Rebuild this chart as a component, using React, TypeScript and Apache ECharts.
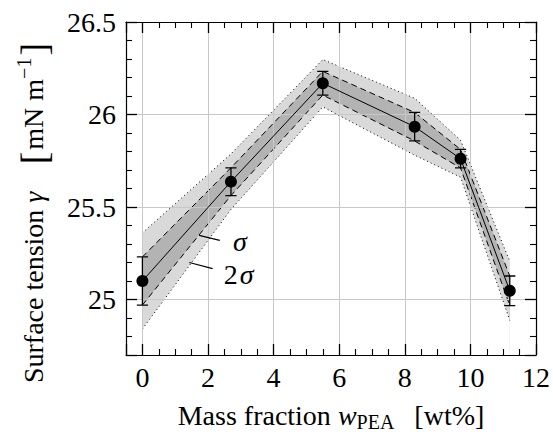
import React, { useEffect, useRef } from "react";
import * as echarts from "echarts";

// Data
const massFraction = [0, 2.7, 5.5, 8.3, 9.7, 11.2];
const surfaceTension = [25.1, 25.637, 26.169, 25.934, 25.761, 25.047];
const sigma = [0.13, 0.075, 0.064, 0.077, 0.05, 0.08];

// Annotation anchors (data coordinates)
const sigmaLeader = [[1.73, 25.347], [2.36, 25.32]];
const twoSigmaLeader = [[1.43, 25.2], [2.14, 25.167]];
const sigmaLabelAt = [2.97, 25.315];
const twoLabelAt = [2.69, 25.134];
const twoSigmaLabelAt = [3.18, 25.134];

const FONT = "Liberation Serif";
const FS = 28;

export default function App() {
  const ref = useRef<HTMLDivElement>(null);

  useEffect(() => {
    if (!ref.current) return;
    const chart = echarts.init(ref.current, undefined, { renderer: "svg" });

    const pts = (f: (i: number) => number) => massFraction.map((x, i) => [x, f(i)]);

    const xAxisBase = (position: string) => ({
      type: "value",
      min: -0.5,
      max: 12,
      splitNumber: 6,
      position,
      z: 10,
      axisLine: { show: true, onZero: false, lineStyle: { color: "#000", width: 1.2 } },
      axisTick: { show: true, inside: true, length: 11, lineStyle: { color: "#000", width: 1.3 } },
      minorTick: { show: true, splitNumber: 4, length: 6, lineStyle: { color: "#000", width: 1.1 } },
    });
    const yAxisBase = (position: string) => ({
      type: "value",
      min: 24.7,
      max: 26.5,
      splitNumber: 4,
      position,
      z: 10,
      axisLine: { show: true, onZero: false, lineStyle: { color: "#000", width: 1.2 } },
      axisTick: { show: true, inside: true, length: 11, lineStyle: { color: "#000", width: 1.3 } },
      minorTick: { show: true, splitNumber: 5, length: 6, lineStyle: { color: "#000", width: 1.1 } },
    });

    const edge = (name: string, f: (i: number) => number, type: any) => ({
      name,
      type: "line",
      data: pts(f),
      symbol: "none",
      silent: true,
      z: 3,
      lineStyle: { color: "#000", width: 1, type },
    });

    // opaque layered areas filled down to the axis start build the two bands
    const layer = (name: string, f: (i: number) => number, color: string) => ({
      name,
      type: "line",
      data: pts(f),
      symbol: "none",
      silent: true,
      z: 1,
      lineStyle: { width: 0, opacity: 0 },
      areaStyle: { color, opacity: 1, origin: "start" },
    });

    const seg = (a: number[], b: number[], width: number, z: number) => ({
      type: "line",
      data: [a, b],
      symbol: "none",
      silent: true,
      z,
      lineStyle: { color: "#000", width, type: "solid" },
    });

    // error bars (vertical bar + caps); cap half-width in data units
    const capHalf = 0.17;
    const errorBars: any[] = [];
    massFraction.forEach((x, i) => {
      const lo = surfaceTension[i] - sigma[i];
      const hi = surfaceTension[i] + sigma[i];
      errorBars.push(seg([x, lo], [x, hi], 1.3, 20));
      errorBars.push(seg([x - capHalf, hi], [x + capHalf, hi], 1.3, 20));
      errorBars.push(seg([x - capHalf, lo], [x + capHalf, lo], 1.3, 20));
    });

    const t = (text: string, x: number, y: number, size: number, italic = false) => ({
      type: "text",
      x,
      y,
      silent: true,
      style: {
        text,
        fill: "#000",
        fontFamily: FONT,
        fontSize: size,
        fontStyle: italic ? "italic" : "normal",
        align: "left",
        verticalAlign: "middle",
      },
    });

    // x-axis title pieces (widths from Times metrics)
    const xw = [5.721 * FS, 0.667 * FS, 1.889 * 20, 20, 2.499 * FS];
    const xTotal = xw.reduce((a, b) => a + b, 0);
    let xp = -xTotal / 2;
    const xParts: any[] = [];
    xParts.push(t("Mass fraction ", xp, 0, FS)); xp += xw[0];
    xParts.push(t("w", xp, 0, FS, true)); xp += xw[1];
    xParts.push(t("PEA", xp, 7, 20)); xp += xw[2] + xw[3];
    xParts.push(t("[wt%]", xp, 0, FS));

    // y-axis title pieces (laid out along rotated baseline)
    const yw = [6.443 * FS, 0.44 * FS, 26, 0.333 * 38, 2, 2.528 * FS, 1.064 * 20, 2, 0.333 * 38];
    const yTotal = yw.reduce((a, b) => a + b, 0);
    let yp = -yTotal / 2;
    const yParts: any[] = [];
    yParts.push(t("Surface tension ", yp, 0, FS)); yp += yw[0];
    yParts.push(t("γ", yp, 0, FS, true)); yp += yw[1] + yw[2];
    yParts.push(t("[", yp, 1, 38)); yp += yw[3] + yw[4];
    yParts.push(t("mN m", yp, 0, FS)); yp += yw[5];
    yParts.push(t("−1", yp, -9, 20)); yp += yw[6] + yw[7];
    yParts.push(t("]", yp, 1, 38));

    chart.setOption({
      animation: false,
      grid: { left: 126, top: 22, width: 410, height: 333 },
      xAxis: [
        {
          ...xAxisBase("bottom"),
          axisLabel: { fontFamily: FONT, fontSize: FS, color: "#000", margin: 8, showMinLabel: false },
          splitLine: { show: true, lineStyle: { color: "#c8c8c8", width: 1 } },
        },
        {
          ...xAxisBase("top"),
          axisLabel: { show: false },
          splitLine: { show: false },
        },
      ],
      yAxis: [
        {
          ...yAxisBase("left"),
          axisLabel: { fontFamily: FONT, fontSize: FS, color: "#000", margin: 10, showMinLabel: false },
          splitLine: { show: true, lineStyle: { color: "#c8c8c8", width: 1 } },
        },
        {
          ...yAxisBase("right"),
          axisLabel: { show: false },
          splitLine: { show: false },
        },
      ],
      graphic: [
        { type: "group", x: 331, y: 415, silent: true, children: xParts },
        { type: "group", x: 33, y: 213, rotation: Math.PI / 2, silent: true, children: yParts },
      ],
      series: [
        layer("2σ upper fill", (i) => surfaceTension[i] + 2 * sigma[i], "#d9d9d9"),
        layer("σ upper fill", (i) => surfaceTension[i] + sigma[i], "#b3b3b3"),
        layer("σ lower fill", (i) => surfaceTension[i] - sigma[i], "#d9d9d9"),
        layer("2σ lower fill", (i) => surfaceTension[i] - 2 * sigma[i], "#ffffff"),
        edge("2σ upper", (i) => surfaceTension[i] + 2 * sigma[i], [1, 3]),
        edge("2σ lower", (i) => surfaceTension[i] - 2 * sigma[i], [1, 3]),
        edge("σ upper", (i) => surfaceTension[i] + sigma[i], [6, 4]),
        edge("σ lower", (i) => surfaceTension[i] - sigma[i], [6, 4]),
        seg(sigmaLeader[0], sigmaLeader[1], 1.2, 11),
        seg(twoSigmaLeader[0], twoSigmaLeader[1], 1.2, 11),
        {
          name: "fit",
          type: "line",
          data: pts((i) => surfaceTension[i]),
          symbol: "none",
          silent: true,
          z: 11,
          lineStyle: { color: "#000", width: 1 },
          markPoint: {
            silent: true,
            symbol: "circle",
            symbolSize: 0,
            label: { show: true, position: "inside", fontFamily: FONT, fontSize: FS, color: "#000" },
            data: [
              { coord: sigmaLabelAt, label: { formatter: "σ", fontStyle: "italic" } },
              { coord: twoLabelAt, label: { formatter: "2" } },
              { coord: twoSigmaLabelAt, label: { formatter: "σ", fontStyle: "italic" } },
            ],
          },
        },
        ...errorBars,
        {
          name: "measured",
          type: "scatter",
          data: pts((i) => surfaceTension[i]),
          symbol: "circle",
          symbolSize: 12,
          silent: true,
          z: 21,
          itemStyle: { color: "#000", opacity: 1 },
        },
      ],
    });

    return () => chart.dispose();
  }, []);

  return (
    <div
      ref={ref}
      style={{ position: "fixed", left: 0, top: 0, width: 553, height: 434, background: "#fff" }}
    />
  );
}
